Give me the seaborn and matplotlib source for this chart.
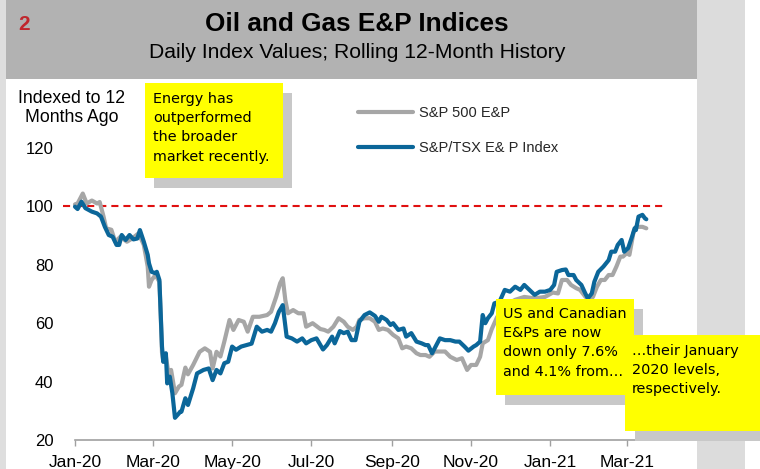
import numpy as np
import pandas as pd
import matplotlib
matplotlib.use("Agg")
import matplotlib.pyplot as plt
import matplotlib.dates as mdates
from matplotlib.patches import Rectangle
import seaborn as sns

# ---------------- data (days since 2020-01-01, index value) ----------------
tsx_days = [0, 2, 5, 8, 13, 17, 20, 23, 26, 29, 32, 34, 36, 39, 42, 45, 48, 50, 53, 56,
            57, 59, 62, 63, 65, 66, 67, 68, 70, 71, 73, 75, 77, 80, 81, 82, 85, 87, 91, 94,
            99, 103, 106, 109, 112, 115, 118, 121, 124, 128, 132, 136, 140, 144, 148, 151,
            154, 157, 160, 162, 163, 167, 171, 175, 178, 182, 186, 191, 194, 198, 200, 204,
            207, 210, 213, 216, 219, 223, 227, 231, 234, 236, 240, 243, 245, 249, 253, 255,
            259, 263, 267, 270, 272, 275, 277, 281, 285, 289, 293, 296, 300, 303, 307, 309,
            312, 314, 316, 318, 321, 323, 327, 331, 335, 339, 343, 346, 350, 354, 358, 362,
            366, 369, 371, 375, 378, 380, 384, 386, 390, 393, 395, 398, 400, 403, 407, 411,
            413, 416, 418, 421, 423, 426, 429, 431, 432, 434, 437, 439, 440]
tsx_vals = [99.9, 99.1, 101.6, 99.4, 98.2, 97.6, 96.5, 93.0, 90.2, 89.6, 86.8, 86.8, 90.2,
            88.5, 90.2, 88.7, 89.0, 91.9, 87.9, 83.4, 80.5, 77.6, 77.1, 77.6, 74.8, 63.4,
            52.0, 46.8, 49.7, 39.4, 41.7, 36.0, 27.6, 29.1, 29.7, 29.7, 34.3, 32.0, 37.7,
            42.8, 44.0, 44.5, 40.5, 44.0, 42.8, 46.3, 46.8, 52.0, 50.9, 52.0, 52.5, 53.0,
            58.8, 57.1, 57.7, 57.1, 60.0, 63.9, 66.2, 58.8, 55.4, 54.8, 53.7, 54.8, 53.1,
            54.2, 54.8, 51.0, 52.5, 55.4, 53.1, 57.3, 56.6, 57.1, 54.2, 54.2, 60.5, 62.8,
            63.7, 62.5, 60.5, 62.2, 61.1, 59.4, 60.0, 57.7, 58.2, 55.4, 56.6, 53.7, 53.1,
            52.5, 52.5, 49.7, 51.4, 54.8, 54.2, 54.2, 53.7, 53.7, 52.0, 50.6, 52.0, 52.5,
            53.7, 62.8, 60.0, 61.7, 63.4, 66.8, 67.4, 71.4, 70.8, 72.5, 71.4, 73.1, 71.4,
            69.7, 70.8, 70.8, 71.4, 73.1, 77.6, 78.2, 78.4, 76.5, 76.5, 74.8, 73.1, 70.2,
            68.5, 70.2, 74.2, 77.6, 79.4, 81.6, 84.5, 84.5, 86.8, 88.5, 84.5, 85.7, 89.6,
            92.5, 91.9, 96.5, 97.1, 95.9, 95.6]

sp_days = [0, 2, 6, 9, 13, 17, 19, 22, 24, 28, 31, 35, 40, 44, 49, 53, 56, 57, 59, 62, 65,
           66, 67, 68, 70, 72, 74, 77, 80, 82, 85, 87, 91, 96, 100, 104, 106, 109, 112, 115,
           119, 122, 126, 130, 133, 137, 142, 148, 151, 155, 158, 160, 162, 164, 168, 172,
           176, 178, 183, 189, 192, 195, 199, 203, 207, 210, 214, 217, 219, 223, 227, 231,
           234, 237, 241, 245, 249, 252, 255, 259, 263, 266, 270, 273, 277, 281, 285, 289,
           294, 298, 302, 305, 309, 312, 314, 318, 321, 325, 331, 339, 346, 354, 362, 368,
           372, 375, 379, 382, 386, 389, 393, 397, 399, 402, 405, 408, 411, 414, 417, 420,
           422, 425, 427, 430, 432, 435, 437, 440]
sp_vals = [100.7, 101.0, 104.4, 101.0, 102.0, 101.0, 101.5, 96.5, 92.5, 92.0, 87.9, 89.6,
           87.9, 89.0, 90.8, 86.8, 79.4, 72.5, 74.8, 76.5, 74.2, 63.0, 50.0, 46.8, 48.6,
           42.8, 44.0, 36.0, 38.3, 38.9, 44.8, 42.5, 45.7, 50.2, 51.4, 50.2, 44.5, 50.2,
           48.6, 53.7, 61.1, 57.7, 61.1, 60.5, 57.1, 62.2, 62.2, 62.8, 63.9, 69.1, 73.7,
           75.4, 67.9, 63.4, 64.5, 63.4, 63.4, 58.8, 60.0, 58.0, 57.7, 57.1, 58.8, 61.7,
           60.5, 58.8, 57.7, 58.8, 61.1, 61.7, 61.7, 60.5, 57.7, 58.2, 57.7, 56.0, 54.8,
           51.4, 52.0, 51.4, 49.7, 49.1, 49.1, 48.5, 50.3, 50.3, 50.3, 48.5, 47.4, 48.0,
           44.0, 45.7, 45.7, 48.5, 53.1, 54.2, 58.0, 62.0, 66.0, 68.0, 69.0, 68.5, 69.0,
           70.5, 70.2, 74.8, 74.8, 73.1, 72.0, 71.4, 69.1, 67.9, 69.1, 72.5, 74.8, 74.8,
           76.5, 76.5, 79.4, 82.8, 82.8, 84.0, 83.4, 90.8, 93.0, 93.0, 93.0, 92.5]

series_names = ["S&P 500 E&P", "S&P/TSX E& P Index"]
y_ticks = [20, 40, 60, 80, 100, 120]
x_tick_months = ["2020-01-01", "2020-03-01", "2020-05-01", "2020-07-01", "2020-09-01",
                 "2020-11-01", "2021-01-01", "2021-03-01"]
reference_level = 100

title = "Oil and Gas E&P Indices"
subtitle = "Daily Index Values; Rolling 12-Month History"
y_label = "Indexed to 12\nMonths Ago"
note1 = "Energy has\noutperformed\nthe broader\nmarket recently."
note2 = "US and Canadian\nE&Ps are now\ndown only 7.6%\nand 4.1% from\u2026"
note3 = "\u2026their January\n2020 levels,\nrespectively."

# ---------------- build frame ----------------
start = pd.Timestamp("2020-01-01")
df = pd.concat([
    pd.DataFrame({"date": start + pd.to_timedelta(sp_days, unit="D"),
                  "value": sp_vals, "series": series_names[0]}),
    pd.DataFrame({"date": start + pd.to_timedelta(tsx_days, unit="D"),
                  "value": tsx_vals, "series": series_names[1]}),
], ignore_index=True)

sns.set_theme(style="white")
plt.rcParams["font.family"] = ["Liberation Sans", "DejaVu Sans"]

W, H = 760, 469
fig = plt.figure(figsize=(W / 100, H / 100), dpi=100)
fig.patch.set_facecolor("white")


def fx(x):
    return x / W


def fy(y):
    return 1 - y / H


def rect(x0, y0, x1, y1, color, z):
    fig.add_artist(Rectangle((fx(x0), fy(y1)), fx(x1) - fx(x0), fy(y0) - fy(y1),
                             transform=fig.transFigure, facecolor=color,
                             edgecolor="none", zorder=z))


# background bands
rect(0, 0, 6, H, "#dedede", -5)
rect(6, 0, 697, 79, "#b2b2b2", -5)
rect(697, 0, 745, H, "#dcdcdc", -5)

# axes placement
ax = fig.add_axes([fx(63), fy(440), fx(665) - fx(63), fy(133.4) - fy(440)])
ax.set_facecolor("none")

palette = {series_names[0]: "#a6a6a6", series_names[1]: "#0b6699"}
sns.lineplot(data=df, x="date", y="value", hue="series", palette=palette,
             hue_order=series_names, linewidth=3.0, ax=ax, estimator=None,
             sort=True, legend=True)

ax.axhline(reference_level, color="#e01010", lw=1.5, ls=(0, (3.4, 2.4)), zorder=1)

ax.set_xlim(start - pd.Timedelta(days=9.24), start + pd.Timedelta(days=454.4))
ax.set_ylim(20, 125)
ax.set_yticks(y_ticks)
ax.set_xticks(pd.to_datetime(x_tick_months))
ax.xaxis.set_major_formatter(mdates.DateFormatter("%b-%y"))
ax.set_xlabel("")
ax.set_ylabel("")

for s in ["top", "right", "left"]:
    ax.spines[s].set_visible(False)
ax.spines["bottom"].set_color("#a0a0a0")
ax.spines["bottom"].set_linewidth(1.2)
ax.spines["bottom"].set_bounds(mdates.date2num(start), mdates.date2num(start + pd.Timedelta(days=431)))
ax.tick_params(axis="x", direction="out", length=4.5, width=1, color="#a0a0a0",
               labelsize=12.5, labelcolor="black", pad=6.5, bottom=True)
ax.tick_params(axis="y", length=0, labelsize=12, labelcolor="black", pad=7)
ax.grid(False)

# legend
handles, labels = ax.get_legend_handles_labels()
leg = ax.legend(handles, labels, loc="upper left",
                bbox_to_anchor=(fx(358), fy(106)), bbox_transform=fig.transFigure,
                frameon=False, fontsize=10.5, handlelength=3.8, handletextpad=0.4,
                labelspacing=1.45, borderpad=0, borderaxespad=0)
for h in leg.get_lines():
    h.set_linewidth(3.0)

# header texts
fig.text(fx(18), fy(24), "2", color="#c0272d", fontsize=15, fontweight="bold",
         ha="left", va="center")
fig.text(fx(357), fy(24), title, fontsize=18.8, fontweight="bold", ha="center",
         va="center", color="black")
fig.text(fx(357), fy(53), subtitle, fontsize=15.2, ha="center", va="center",
         color="black")
fig.text(fx(72), fy(108), y_label, fontsize=12.7, ha="center", va="center",
         multialignment="center", linespacing=1.2, color="black")


# callout boxes
def callout(x0, y0, x1, y1, text, tx, ty, dx=9, dy=10):
    rect(x0 + dx, y0 + dy, x1 + dx, y1 + dy, "#c8c8c8", 5)
    rect(x0, y0, x1, y1, "#ffff00", 6)
    fig.text(fx(tx), fy(ty), text, fontsize=10.4, family=["DejaVu Sans"],
             ha="left", va="top", linespacing=1.47, color="black", zorder=7)


callout(145, 83, 283, 178, note1, 153, 92)
callout(496, 299, 634, 395, note2, 503, 307)
callout(625, 335, 760, 431, note3, 632, 344, dx=10, dy=10)

fig.savefig("out.png", dpi=100)
